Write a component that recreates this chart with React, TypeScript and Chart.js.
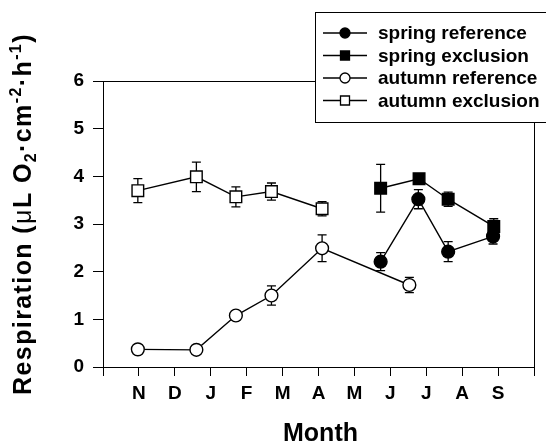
import React, { useEffect, useRef } from "react";
import { Chart, registerables } from "chart.js";

Chart.register(...registerables);

// ---- data ----
const monthLabels = ["", "N", "D", "J", "F", "M", "A", "M", "J", "J", "A", "S", ""];
const yTicks = [0, 1, 2, 3, 4, 5, 6];

const autumnX = [0.97, 2.6, 3.7, 4.69, 6.1, 8.53];
const autumnRefY = [0.37, 0.36, 1.08, 1.5, 2.49, 1.72];
const autumnRefErr = [0.04, 0.04, 0.08, 0.2, 0.28, 0.16];
const autumnExcY = [3.7, 3.99, 3.57, 3.68, 3.32];
const autumnExcErr = [0.25, 0.31, 0.21, 0.18, 0.15];

const springRefX = [7.73, 8.78, 9.61, 10.86];
const springRefY = [2.21, 3.52, 2.42, 2.74];
const springRefErr = [0.19, 0.2, 0.21, 0.16];
const springExcX = [7.73, 8.8, 9.61, 10.88];
const springExcY = [3.75, 3.95, 3.52, 2.95];
const springExcErr = [0.5, 0.05, 0.15, 0.16];

const seriesNames = ["spring reference", "spring exclusion", "autumn reference", "autumn exclusion"];

const FONT = "'Liberation Sans', Arial, Helvetica, sans-serif";

function pts(xs: number[], ys: number[]) {
  return ys.map((y, i) => ({ x: xs[i], y }));
}

const errorsByDataset = [springRefErr, springExcErr, autumnRefErr, autumnExcErr];

const errorBarPlugin = {
  id: "errorBars",
  beforeDatasetsDraw(chart: any) {
    const ctx = chart.ctx;
    const ys = chart.scales.y;
    ctx.save();
    ctx.strokeStyle = "#000";
    ctx.lineWidth = 1.3;
    chart.data.datasets.forEach((ds: any, di: number) => {
      const meta = chart.getDatasetMeta(di);
      const errs = errorsByDataset[di];
      meta.data.forEach((el: any, i: number) => {
        const v = ds.data[i].y;
        const e = errs[i];
        const x = el.x;
        const yt = ys.getPixelForValue(v + e);
        const yb = ys.getPixelForValue(v - e);
        ctx.beginPath();
        ctx.moveTo(x, yt);
        ctx.lineTo(x, yb);
        ctx.moveTo(x - 4.5, yt);
        ctx.lineTo(x + 4.5, yt);
        ctx.moveTo(x - 4.5, yb);
        ctx.lineTo(x + 4.5, yb);
        ctx.stroke();
      });
    });
    ctx.restore();
  },
};

const framePlugin = {
  id: "frame",
  afterDatasetsDraw(chart: any) {
    const { ctx, chartArea } = chart;
    ctx.save();
    ctx.strokeStyle = "#000";
    ctx.lineWidth = 1;
    ctx.beginPath();
    ctx.moveTo(Math.round(chartArea.left) + 0.5, Math.round(chartArea.top) + 0.5);
    ctx.lineTo(Math.round(chartArea.right) + 0.5, Math.round(chartArea.top) + 0.5);
    ctx.lineTo(Math.round(chartArea.right) + 0.5, Math.round(chartArea.bottom) + 0.5);
    ctx.stroke();
    ctx.restore();
  },
};

const titlesPlugin = {
  id: "titles",
  afterDraw(chart: any) {
    const { ctx, chartArea } = chart;
    ctx.save();
    ctx.fillStyle = "#000";
    // x title
    ctx.font = `bold 25px ${FONT}`;
    ctx.textAlign = "center";
    ctx.textBaseline = "alphabetic";
    ctx.fillText("Month", (chartArea.left + chartArea.right) / 2 + 2, 441);

    // y title (rich text, rotated)
    const segs = [
      { t: "Respiration (", f: `bold 25px ${FONT}`, dy: 0 },
      { t: "\u03bc", f: `25px ${FONT}`, dy: 0 },
      { t: "L O", f: `bold 25px ${FONT}`, dy: 0 },
      { t: "2", f: `bold 16px ${FONT}`, dy: 5 },
      { t: "\u00b7cm", f: `bold 25px ${FONT}`, dy: 0 },
      { t: "-2", f: `bold 16px ${FONT}`, dy: -10 },
      { t: "\u00b7h", f: `bold 25px ${FONT}`, dy: 0 },
      { t: "-1", f: `bold 16px ${FONT}`, dy: -10 },
      { t: ")", f: `bold 25px ${FONT}`, dy: 0 },
    ];
    (ctx as any).letterSpacing = "1.4px";
    let total = 0;
    const widths = segs.map((s) => {
      ctx.font = s.f;
      const w = ctx.measureText(s.t).width;
      total += w;
      return w;
    });
    ctx.translate(31, 214);
    ctx.rotate(-Math.PI / 2);
    ctx.textAlign = "left";
    let cx = -total / 2;
    segs.forEach((s, i) => {
      ctx.font = s.f;
      ctx.fillText(s.t, cx, s.dy);
      cx += widths[i];
    });
    ctx.restore();
  },
};

const legendPlugin = {
  id: "customLegend",
  afterDraw(chart: any) {
    const ctx = chart.ctx;
    ctx.save();
    ctx.fillStyle = "#fff";
    ctx.fillRect(315, 12, 240, 110);
    ctx.strokeStyle = "#000";
    ctx.lineWidth = 1;
    ctx.strokeRect(315.5, 12.5, 240, 110);
    const rows = [33, 55.5, 78, 100.5];
    chart.data.datasets.forEach((ds: any, i: number) => {
      const y = rows[i];
      ctx.strokeStyle = "#000";
      ctx.lineWidth = 1.3;
      ctx.beginPath();
      ctx.moveTo(323, y);
      ctx.lineTo(367, y);
      ctx.stroke();
      ctx.fillStyle = ds.pointBackgroundColor;
      ctx.lineWidth = 1.3;
      ctx.beginPath();
      if (ds.pointStyle === "circle") {
        ctx.arc(345, y, 5, 0, Math.PI * 2);
      } else {
        ctx.rect(345 - 4.5, y - 4.5, 9, 9);
      }
      ctx.fill();
      ctx.stroke();
      ctx.fillStyle = "#000";
      ctx.font = `bold 19px ${FONT}`;
      ctx.textAlign = "left";
      ctx.textBaseline = "middle";
      ctx.fillText(ds.label, 378, y + 1);
    });
    ctx.restore();
  },
};

export default function App() {
  const ref = useRef<HTMLCanvasElement | null>(null);
  useEffect(() => {
    document.body.style.margin = "0";
    if (!ref.current) return;
    const common = {
      showLine: true,
      borderColor: "#000",
      borderWidth: 1.4,
      pointBorderColor: "#000",
      pointBorderWidth: 1.4,
    };
    const chart = new Chart(ref.current, {
      type: "scatter",
      data: {
        datasets: [
          {
            ...common,
            label: seriesNames[0],
            data: pts(springRefX, springRefY),
            pointStyle: "circle",
            pointRadius: 6.4,
            pointBackgroundColor: "#000",
          },
          {
            ...common,
            label: seriesNames[1],
            data: pts(springExcX, springExcY),
            pointStyle: "rect",
            pointRadius: 8.2,
            pointBackgroundColor: "#000",
          },
          {
            ...common,
            label: seriesNames[2],
            data: pts(autumnX, autumnRefY),
            pointStyle: "circle",
            pointRadius: 6.4,
            pointBackgroundColor: "#fff",
          },
          {
            ...common,
            label: seriesNames[3],
            data: pts(autumnX, autumnExcY),
            pointStyle: "rect",
            pointRadius: 8.2,
            pointBackgroundColor: "#fff",
          },
        ],
      } as any,
      options: {
        animation: false,
        responsive: false,
        events: [],
        layout: { padding: { top: 81, right: 12, left: 0, bottom: 0 } },
        plugins: {
          legend: { display: false },
          tooltip: { enabled: false },
        },
        scales: {
          x: {
            type: "linear",
            min: 0,
            max: 12,
            afterFit(scale: any) {
              scale.height = 77;
            },
            afterBuildTicks(scale: any) {
              scale.ticks = monthLabels.map((_, i) => ({ value: i }));
            },
            ticks: {
              autoSkip: false,
              maxRotation: 0,
              padding: 6,
              color: "#000",
              font: { family: FONT, size: 19, weight: "bold" },
              callback: (v: any) => monthLabels[Math.round(Number(v))] ?? "",
            },
            grid: { drawOnChartArea: false, drawTicks: true, tickLength: 9, color: "#000", lineWidth: 1 },
            border: { display: true, color: "#000", width: 1 },
          },
          y: {
            type: "linear",
            min: 0,
            max: 6,
            afterFit(scale: any) {
              scale.width = 103;
            },
            afterBuildTicks(scale: any) {
              scale.ticks = yTicks.map((v) => ({ value: v }));
            },
            ticks: {
              padding: 9,
              color: "#000",
              font: { family: FONT, size: 19, weight: "bold" },
              callback: (v: any) => String(v),
            },
            grid: { drawOnChartArea: false, drawTicks: true, tickLength: 10, color: "#000", lineWidth: 1 },
            border: { display: true, color: "#000", width: 1 },
          },
        },
      } as any,
      plugins: [errorBarPlugin, framePlugin, titlesPlugin, legendPlugin],
    });
    return () => chart.destroy();
  }, []);
  return <canvas ref={ref} width={546} height={444} style={{ display: "block" }} />;
}
